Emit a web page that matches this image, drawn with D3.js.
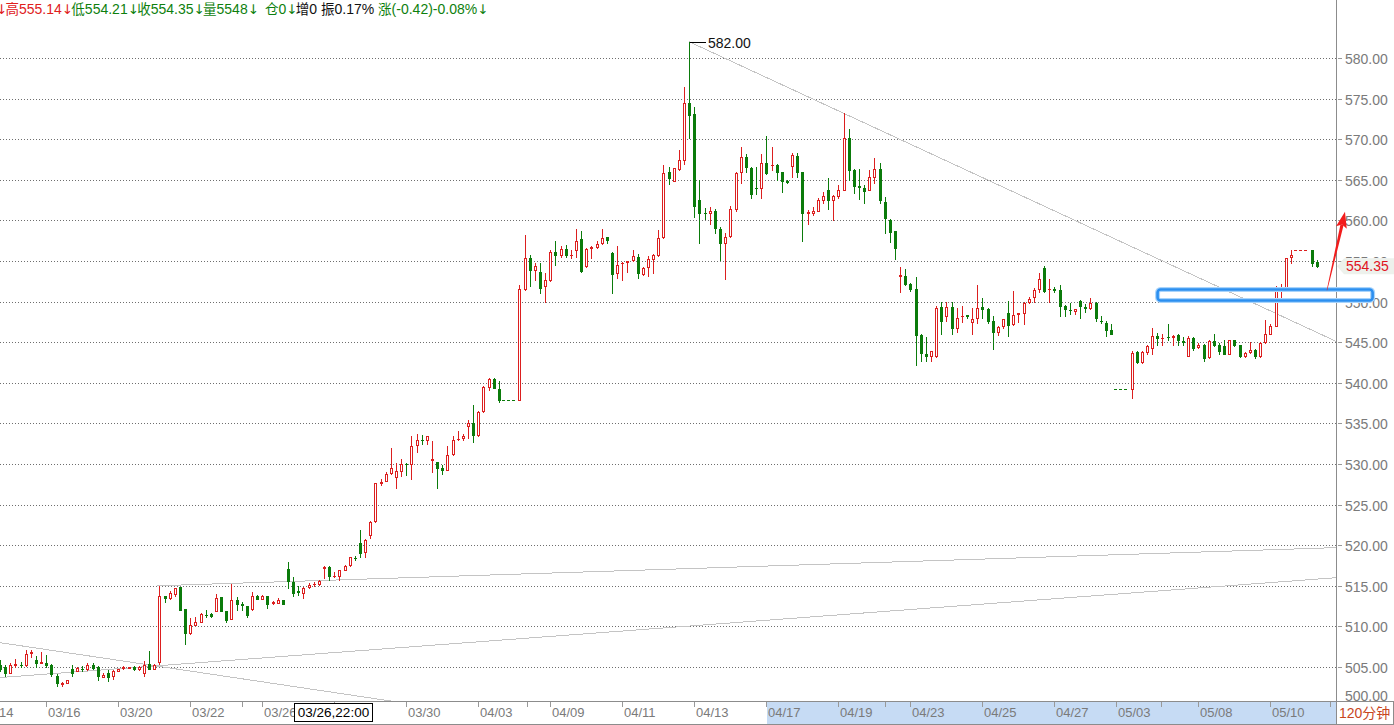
<!DOCTYPE html>
<html><head><meta charset="utf-8">
<script src="https://cdn.jsdelivr.net/npm/d3@7"></script>
<style>html,body{margin:0;padding:0;background:#fff;overflow:hidden}svg{display:block}</style>
</head><body>
<svg id="chart" width="1394" height="725"></svg>
<script>
const N = null;
// ---- candle data (120-minute bars), null = no session ----
const opens = [
505.3,505.0,504.3,505.3,505.3,505.3,506.7,505.9,505.55,505.55,
505.2,503.9,502.9,503.0,504.8,504.5,504.8,504.75,505.3,505.0,
503.8,504.2,503.9,504.5,504.85,504.9,505.0,504.75,504.2,505.35,
504.75,505.6,513.8,513.45,514.0,514.85,512.1,509.15,510.2,510.6,
511.45,511.5,511.9,513.6,511.85,510.9,513.3,512.7,512.5,512.1,
513.8,513.4,513.8,512.9,512.9,513.2,517.05,515.45,514.3,514.1,
514.8,515.2,515.25,517.2,517.3,516.15,516.2,517.0,517.6,518.45,
520.3,519.2,521.2,523.0,527.6,527.9,528.85,528.4,529.1,530.05,
530.0,532.3,533.0,532.9,530.5,530.2,529.55,529.3,531.2,533.05,
533.15,534.7,535.05,533.6,536.5,539.5,540.5,539.25,N,N,
N,537.85,551.5,555.4,553.85,553.65,551.9,552.6,556.15,555.8,
556.5,555.75,556.3,557.75,554.35,556.6,556.7,557.2,557.9,556.0,
553.5,554.7,554.9,555.1,555.5,553.4,554.3,555.25,555.8,557.9,
566.0,564.9,566.3,567.4,574.4,573.1,562.5,560.9,560.9,561.15,
559.0,557.2,558.1,561.35,565.9,567.8,566.4,564.0,563.95,567.1,
566.8,566.8,565.9,564.85,566.7,567.9,565.9,560.9,560.95,561.15,
562.5,563.75,562.5,563.05,563.75,570.1,566.2,564.25,563.95,563.75,
565.4,566.3,562.3,560.1,558.7,553.15,553.1,552.2,551.5,545.85,
543.5,543.3,543.25,549.35,548.2,549.35,546.8,548.2,548.3,547.5,
547.95,549.3,549.05,547.55,546.3,547.0,548.55,547.2,548.45,548.55,
549.9,550.6,551.5,554.1,551.55,551.6,551.45,549.4,549.0,548.85,
550.1,549.3,549.25,549.8,547.65,547.4,546.5,N,N,N,
539.2,543.8,542.55,543.8,544.3,545.8,545.5,545.7,545.65,545.85,
545.2,543.35,545.5,544.45,544.7,543.15,545.1,544.7,544.5,543.6,
545.3,544.6,543.3,543.75,544.1,543.3,545.05,546.05,547.05,551.5,
551.7,555.5,N,N,N,556.3,554.9];
const highs = [
505.9,505.2,505.5,506.0,505.6,507.1,507.1,506.4,506.9,506.5,
505.4,504.1,503.1,503.4,505.3,505.0,505.1,505.5,505.5,505.1,
504.3,504.6,504.6,504.7,505.15,505.05,505.15,505.1,505.8,507.0,
505.4,515.0,513.8,514.4,514.75,514.9,512.1,511.0,511.1,511.6,
512.0,511.6,514.0,513.65,511.9,515.2,513.6,513.0,512.5,514.2,
513.9,513.85,513.8,513.1,513.5,513.3,517.9,516.1,515.0,514.9,
515.3,515.45,515.75,517.4,517.4,516.7,517.0,517.6,518.6,518.7,
521.9,520.8,523.0,527.7,528.2,529.0,532.0,530.1,530.6,530.1,
533.4,533.7,533.6,533.5,532.85,530.3,529.9,532.2,533.4,534.1,
533.7,535.4,537.3,536.5,539.55,540.6,540.6,540.2,N,N,
N,552.0,558.2,555.8,554.75,554.7,553.5,556.4,557.5,556.8,
557.0,556.4,559.0,558.7,556.6,556.9,557.5,558.9,558.0,556.05,
556.9,554.85,555.0,556.3,555.9,554.2,555.6,555.9,558.8,566.8,
566.6,566.45,568.7,576.4,582.0,574.0,565.0,561.5,561.7,561.4,
559.2,558.5,561.8,566.0,569.0,568.2,566.6,566.6,568.2,570.4,
569.0,567.0,566.0,565.0,568.35,568.3,566.0,561.3,561.7,562.7,
563.45,565.2,563.1,564.35,573.2,571.2,566.3,566.3,564.35,566.2,
567.65,567.1,562.9,560.2,558.7,554.3,554.0,552.3,553.0,545.95,
545.6,543.9,549.45,549.95,549.95,549.95,549.25,549.45,548.4,549.25,
552.1,550.5,549.25,548.25,547.0,547.9,550.1,551.3,548.55,549.95,
550.6,551.7,553.5,554.4,552.8,551.85,552.1,549.55,549.8,549.15,
550.15,549.7,550.4,549.9,548.25,547.6,547.3,N,N,N,
543.9,543.9,543.9,544.7,546.7,546.15,545.95,547.25,545.9,545.95,
545.65,545.8,545.7,544.9,544.8,545.3,546.05,544.9,545.25,545.3,
545.3,544.7,543.8,545.0,544.2,545.0,547.7,547.25,551.95,552.2,
555.4,556.3,N,N,N,556.3,555.14];
const lows = [
504.5,503.9,504.2,505.0,505.0,505.1,506.2,505.0,505.5,505.0,
503.9,502.6,502.6,503.0,503.9,504.5,504.5,504.6,504.7,503.4,
503.8,503.3,503.5,504.5,504.75,504.9,504.6,504.6,503.9,504.7,
504.7,505.4,513.0,513.4,513.7,512.0,507.8,509.1,510.2,510.6,
511.2,511.1,511.85,511.85,510.6,510.85,512.0,512.0,511.2,512.05,
513.4,513.35,512.3,512.8,512.85,512.7,514.7,513.8,513.9,513.5,
514.75,514.95,515.15,516.0,515.75,516.1,515.75,516.95,517.5,518.2,
518.5,518.5,520.9,522.8,527.45,527.85,528.8,527.1,528.5,528.7,
528.1,531.5,532.5,532.5,529.05,527.1,528.8,529.2,531.1,533.0,
532.9,533.2,532.65,533.5,536.4,539.1,539.3,537.6,N,N,
N,537.85,551.4,551.9,552.7,551.1,550.0,552.5,554.45,555.5,
555.5,555.4,555.5,553.65,554.3,555.4,556.6,557.1,557.2,551.1,
552.9,552.6,553.6,555.0,552.9,553.3,553.2,553.5,555.6,557.8,
564.5,564.8,566.2,567.0,570.1,560.4,557.2,560.2,559.6,558.5,
555.1,552.8,558.0,561.1,564.65,566.0,562.7,563.3,562.7,565.7,
566.2,565.0,563.5,564.6,565.3,565.4,557.5,559.6,560.65,561.1,
562.1,561.4,560.1,562.7,563.7,565.0,563.35,562.6,562.1,563.7,
564.6,562.1,558.4,557.3,555.3,551.2,552.0,551.3,542.2,542.7,
542.7,542.7,543.15,546.0,547.6,546.05,546.2,547.5,548.0,546.05,
547.4,548.0,547.4,544.2,545.9,546.8,545.8,547.1,547.5,547.2,
549.8,549.9,551.2,551.2,549.9,551.2,548.2,548.2,548.45,548.45,
548.0,548.7,549.1,547.6,547.4,545.8,546.0,N,N,N,
538.15,542.4,542.5,543.5,543.5,544.6,544.7,545.3,544.7,544.7,
544.6,543.3,544.1,544.3,542.65,543.1,544.5,543.6,543.5,543.5,
544.5,543.2,543.2,543.7,543.1,543.2,544.95,546.0,547.0,550.45,
551.6,554.8,N,N,N,554.35,554.21];
const closes = [
504.8,504.2,505.3,505.4,505.25,506.6,506.9,505.5,505.6,505.2,
504.1,503.0,503.0,503.4,504.3,504.9,504.75,505.3,504.9,503.9,
504.0,503.8,504.5,504.7,505.0,505.0,504.75,505.0,505.3,504.75,
505.3,513.8,513.5,514.1,514.75,512.0,509.2,510.2,510.6,511.55,
511.4,511.25,513.5,511.85,510.8,513.3,512.7,512.65,511.4,513.8,
513.4,513.8,512.7,513.0,513.2,512.8,515.65,514.1,514.2,514.75,
515.15,515.25,515.6,517.3,516.2,516.2,516.9,517.4,518.5,518.4,
519.0,520.7,522.9,527.6,527.8,528.75,529.5,529.15,530.0,530.0,
532.25,533.0,532.95,533.5,530.6,529.55,529.2,531.1,533.0,533.1,
533.5,535.1,533.6,536.4,539.45,540.5,539.4,537.85,N,N,
N,551.5,555.4,553.85,554.4,551.65,552.6,556.15,555.8,556.5,
555.8,555.8,557.5,553.8,556.5,556.7,557.1,557.8,557.6,553.4,
554.45,554.75,555.0,555.6,553.5,554.1,555.25,555.8,557.8,565.8,
565.2,566.4,567.5,574.4,573.0,561.8,560.9,560.85,561.1,559.1,
557.2,557.9,561.35,565.8,567.8,566.55,563.3,563.95,567.1,565.8,
566.85,566.0,564.8,564.75,568.05,566.0,560.95,561.0,561.15,562.5,
563.05,562.5,563.05,563.75,570.1,566.2,564.25,564.1,563.65,565.3,
566.3,562.5,560.25,558.6,556.55,553.25,552.2,551.5,545.9,543.65,
543.3,543.9,549.25,547.6,549.35,546.7,547.95,548.25,548.2,547.9,
549.25,549.15,547.6,546.3,546.9,547.8,547.1,548.3,548.55,549.8,
550.3,551.4,552.75,551.3,551.6,551.45,549.5,549.15,548.95,549.15,
549.4,549.25,549.8,547.95,547.6,546.5,546.0,N,N,N,
543.7,542.55,543.8,544.5,545.8,545.5,545.55,545.65,545.8,545.3,
545.0,545.5,544.3,544.7,543.05,545.2,544.6,543.9,543.6,545.25,
544.7,543.3,543.7,544.1,543.3,544.9,546.05,547.05,551.35,551.55,
555.35,555.8,N,N,N,554.77,554.35];

// ---- axis labels ----
const dateLabels  = ["03/14","03/16","03/20","03/22","03/26","","03/30","04/03","04/09","04/11","04/13","04/17","04/19","04/23","04/25","04/27","05/03","05/08","05/10"];
const dateTickIdx = [-4, 9, 23, 37, 51, 65, 79, 93, 107, 121, 135, 149, 163, 177, 191, 205, 217, 233, 247];
const minorTickIdx = [47, 102.5, 172, 225.7, 258.6];
const priceTicks = [500,505,510,515,520,525,530,535,540,545,550,555,560,565,570,575,580];
const highlightFromIdx = 149;
const crosshairIdx = 65;
const crosshairText = "03/26,22:00";
const periodText = "120分钟";

// ---- header quote fields ----
const headerParts = [
  ["↓","up"],["高","up"],["555.14","up"],["↓","up"],
  ["低","dn"],["554.21","dn"],["↓","dn"],["收","dn"],["554.35","dn"],["↓","dn"],
  ["量","dn"],["5548","dn"],["↓","dn"],["  ","dn"],
  ["仓","dn"],["0","dn"],["↓","dn"],["增","k"],["0 ","k"],["振","k"],["0.17% ","k"],
  ["涨","dn"],["(-0.42)-0.08%","dn"],["↓","dn"]
];

// ---- drawn trend lines & annotations (data coords: [index, price]) ----
const trendLines = [
  [[134, 582.0], [164, 573.2]],
  [[0, 508.0], [74, 501.0]],
  [[0, 503.7], [259.77, 516.0]],
  [[30.5, 515.0], [259.77, 519.7]]
];
const boxAnno = {x0: 225.06, x1: 266.87, p0: 551.49, p1: 550.14};
const arrowAnno = {from: [258.0, 551.4], to: [261.5, 561.05]};

// ---- layout ----
const W = 1394, H = 725, plotR = 1336, plotT = 22, plotB = 701;
const RED = "#dc1f1f", GREEN = "#0b7b0b", GRID = "#6e6e6e", AXIS = "#8c8c8c", LBL = "#7a7a7a";
const colorOf = {up: "#e0201c", dn: "#0e7f0e", k: "#111"};
const SANS = "'Liberation Sans', Arial, sans-serif";

const svg = d3.select("#chart");
const x = d3.scaleLinear().domain([0, 256]).range([0, 1316.7]);
const y = d3.scaleLinear().domain([500, 580]).range([707.6, 58]);
const px = i => Math.round(x(i));
const py = v => Math.round(y(v));

svg.append("rect").attr("width", W).attr("height", H).attr("fill", "#fff");

const defs = svg.append("defs");
defs.append("clipPath").attr("id", "plot").append("rect")
  .attr("x", 0).attr("y", plotT).attr("width", plotR).attr("height", plotB - plotT);

// bottom axis highlight band
svg.append("rect").attr("x", px(highlightFromIdx) + 1).attr("y", plotB + 1)
  .attr("width", plotR - px(highlightFromIdx) - 1).attr("height", 22).attr("fill", "#c6dbf4");

// grid
const grid = svg.append("g");
priceTicks.filter(v => y(v) < plotB).forEach(v => {
  grid.append("line").attr("x1", 0).attr("x2", plotR).attr("y1", py(v) + 0.5).attr("y2", py(v) + 0.5)
    .attr("stroke", GRID).attr("stroke-width", 1).attr("stroke-dasharray", "1,2");
});

// trend lines
const tl = svg.append("g").attr("clip-path", "url(#plot)");
trendLines.forEach(([a, b]) => {
  const slope = (b[1] - a[1]) / (b[0] - a[0]);
  const iEnd = x.invert(plotR);
  const v1 = a[1] + slope * (iEnd - a[0]);
  tl.append("line").attr("x1", x(a[0])).attr("y1", y(a[1])).attr("x2", x(iEnd)).attr("y2", y(v1))
    .attr("stroke", "#c4c4c4").attr("stroke-width", 1).attr("shape-rendering", "crispEdges");
});

// candles
const cg = svg.append("g").attr("clip-path", "url(#plot)");
d3.range(opens.length).filter(i => opens[i] !== null).forEach(i => {
  const o = opens[i], c = closes[i], h = highs[i], l = lows[i];
  const up = c >= o, col = up ? RED : GREEN;
  const cx = px(i);
  const top = py(Math.max(o, c)), bot = py(Math.min(o, c));
  const rh = py(h), rl = py(l);
  if (rh < top) cg.append("line").attr("x1", cx + 0.5).attr("x2", cx + 0.5).attr("y1", rh).attr("y2", top).attr("stroke", col);
  if (rl > bot) cg.append("line").attr("x1", cx + 0.5).attr("x2", cx + 0.5).attr("y1", bot + 1).attr("y2", rl + 1).attr("stroke", col);
  if (!up || bot - top < 2) {
    cg.append("rect").attr("x", cx - 1).attr("y", top).attr("width", 3).attr("height", Math.max(1, bot - top + 1)).attr("fill", col);
  } else {
    cg.append("rect").attr("x", cx - 0.5).attr("y", top + 0.5).attr("width", 2).attr("height", bot - top)
      .attr("fill", "#fff").attr("stroke", col).attr("stroke-width", 1);
  }
});

// no-session placeholders (dashed at next open)
for (let i = 0; i < opens.length; i++) {
  if (opens[i] === null) {
    const s = i; while (i < opens.length && opens[i] === null) i++;
    const prev = s - 1, next = i;
    const col = closes[prev] >= opens[prev] ? RED : GREEN;
    cg.append("line").attr("x1", px(prev) + 3).attr("x2", px(next) - 3)
      .attr("y1", py(opens[next]) + 0.5).attr("y2", py(opens[next]) + 0.5)
      .attr("stroke", col).attr("stroke-dasharray", "3,2");
  }
}

// highest-price marker
const valid = d3.range(highs.length).filter(i => highs[i] !== null);
const iMax = d3.greatest(valid, i => highs[i]);
svg.append("line").attr("x1", px(iMax) + 1).attr("x2", px(iMax) + 17)
  .attr("y1", py(highs[iMax]) + 0.5).attr("y2", py(highs[iMax]) + 0.5).attr("stroke", "#000");
svg.append("text").attr("x", px(iMax) + 19).attr("y", py(highs[iMax]) + 0.5).attr("dy", "0.36em")
  .attr("font-family", SANS).attr("font-size", 14).attr("fill", "#111")
  .text(highs[iMax].toFixed(2));

// axes frame
svg.append("line").attr("x1", plotR + 0.5).attr("x2", plotR + 0.5).attr("y1", 0).attr("y2", H).attr("stroke", AXIS);
svg.append("line").attr("x1", 0).attr("x2", W).attr("y1", plotB + 0.5).attr("y2", plotB + 0.5).attr("stroke", AXIS);
svg.append("line").attr("x1", 0).attr("x2", W).attr("y1", H - 0.5).attr("y2", H - 0.5).attr("stroke", AXIS);

// right price axis
const ra = svg.append("g").attr("font-family", SANS).attr("font-size", 14).attr("fill", LBL);
const lastClose = closes[closes.length - 1];
priceTicks.forEach(v => {
  const yy = Math.min(py(v), plotB - 6);
  if (py(v) < plotB) ra.append("line").attr("x1", plotR + 2).attr("x2", plotR + 6).attr("y1", yy + 0.5).attr("y2", yy + 0.5).attr("stroke", "#999");
  // label hidden behind the last-price tag only peeks out above it
  if (Math.abs(y(v) - y(lastClose)) < 9) {
    const cid = "peek" + v;
    defs.append("clipPath").attr("id", cid).append("rect").attr("x", plotR).attr("y", 0).attr("width", W - plotR).attr("height", y(lastClose) - 8);
    ra.append("text").attr("x", plotR + 9).attr("y", yy + 0.5).attr("dy", "0.36em").attr("clip-path", `url(#${cid})`).text(v.toFixed(2));
  } else {
    ra.append("text").attr("x", plotR + 9).attr("y", yy + 0.5).attr("dy", "0.36em").text(v.toFixed(2));
  }
});

// bottom date axis
const ba = svg.append("g").attr("font-family", SANS).attr("font-size", 13).attr("fill", LBL);
dateTickIdx.forEach((t, k) => {
  const xx = px(t) + 0.5;
  ba.append("line").attr("x1", xx).attr("x2", xx).attr("y1", plotB + 1).attr("y2", plotB + 6).attr("stroke", "#999");
  if (dateLabels[k]) ba.append("text").attr("x", xx + 1.5).attr("y", plotB + 16).text(dateLabels[k]);
});
minorTickIdx.forEach(t => {
  const xx = px(t) + 0.5;
  ba.append("line").attr("x1", xx).attr("x2", xx).attr("y1", plotB + 1).attr("y2", plotB + 6).attr("stroke", "#999");
});

// crosshair time tag
const cxx = x(crosshairIdx);
svg.append("rect").attr("x", Math.round(cxx - 40) + 0.5).attr("y", plotB + 2.5).attr("width", 78).attr("height", 18)
  .attr("fill", "#fff").attr("stroke", "#000");
svg.append("text").attr("x", Math.round(cxx - 40) + 39.5).attr("y", plotB + 16).attr("text-anchor", "middle")
  .attr("font-family", SANS).attr("font-size", 13.5).attr("fill", "#000").text(crosshairText);

// period tag
svg.append("rect").attr("x", plotR + 0.5).attr("y", plotB + 0.5).attr("width", W - plotR - 1).attr("height", H - plotB - 1)
  .attr("fill", "#fff").attr("stroke", AXIS);
svg.append("text").attr("x", plotR + 3).attr("y", plotB + 17)
  .attr("font-family", "'Liberation Sans','Noto Sans CJK SC', sans-serif").attr("font-size", 14).attr("fill", "#c8461e").text(periodText);

// blue box annotation
const bx0 = x(boxAnno.x0), bx1 = x(boxAnno.x1), by0 = y(boxAnno.p0), by1 = y(boxAnno.p1);
svg.append("rect").attr("x", bx0).attr("y", by0).attr("width", bx1 - bx0).attr("height", by1 - by0).attr("rx", 3)
  .attr("fill", "none").attr("stroke", "#a9d4fb").attr("stroke-width", 5);
svg.append("rect").attr("x", bx0).attr("y", by0).attr("width", bx1 - bx0).attr("height", by1 - by0).attr("rx", 3)
  .attr("fill", "none").attr("stroke", "#2b8ff0").attr("stroke-width", 2.6);

// red arrow annotation
{
  const ax0 = x(arrowAnno.from[0]), ay0 = y(arrowAnno.from[1]);
  const ax1 = x(arrowAnno.to[0]), ay1 = y(arrowAnno.to[1]);
  const dx = ax1 - ax0, dy = ay1 - ay0, len = Math.hypot(dx, dy);
  const ux = dx / len, uy = dy / len, nx = -uy, ny = ux;
  const hl = 16, hw = 5.5;
  const bxh = ax1 - ux * hl, byh = ay1 - uy * hl;
  const sh = [[ax0 + nx * 0.3, ay0 + ny * 0.3], [bxh + ux * 3 + nx * 1.6, byh + uy * 3 + ny * 1.6],
              [bxh + ux * 3 - nx * 1.6, byh + uy * 3 - ny * 1.6], [ax0 - nx * 0.3, ay0 - ny * 0.3]];
  svg.append("polygon").attr("points", sh.map(p => p.join(",")).join(" ")).attr("fill", "#f21c1c");
  const hd = [[ax1, ay1], [bxh + nx * hw, byh + ny * hw], [bxh + ux * 3, byh + uy * 3], [bxh - nx * hw, byh - ny * hw]];
  svg.append("polygon").attr("points", hd.map(p => p.join(",")).join(" ")).attr("fill", "#f21c1c");
}

// last price tag
{
  const yy = y(lastClose);
  const pts = [[plotR + 1, yy], [plotR + 8, yy - 8], [W, yy - 8], [W, yy + 8], [plotR + 8, yy + 8]];
  svg.append("polygon").attr("points", pts.map(p => p.join(",")).join(" ")).attr("fill", "#edf1ec");
  svg.append("text").attr("x", plotR + 10).attr("y", yy).attr("dy", "0.36em")
    .attr("font-family", SANS).attr("font-size", 14).attr("fill", "#e0141e")
    .text(lastClose.toFixed(2));
}

// header quote line
{
  const t = svg.append("text").attr("x", -4).attr("y", 14).attr("xml:space", "preserve").style("white-space", "pre");
  headerParts.forEach(([s, k]) => {
    const cjk = /[\u4e00-\u9fff]/.test(s);
    const arrow = s === "↓";
    t.append("tspan").attr("fill", colorOf[k])
      .attr("font-family", cjk ? "'Noto Sans CJK SC', sans-serif" : arrow ? "'DejaVu Sans', sans-serif" : SANS)
      .attr("font-size", cjk ? 13.5 : arrow ? 13.5 : 14)
      .attr("letter-spacing", arrow ? -1.8 : null)
      .attr("dy", null).text(s);
  });
}
</script>
</body></html>
